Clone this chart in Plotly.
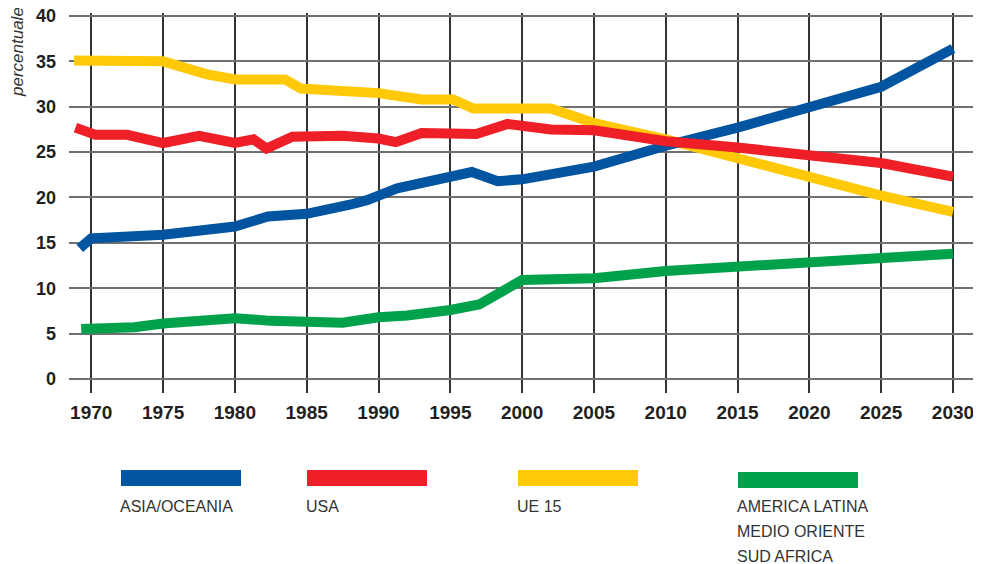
import plotly.graph_objects as go

# data
asia_years = [1969.2, 1970, 1975, 1980, 1982.3, 1985, 1988, 1989.2, 1991.3, 1995, 1996.5, 1998.3, 2000,
              2005, 2010, 2015, 2020, 2025, 2030]
asia_vals = [14.4, 15.5, 15.9, 16.8, 17.9, 18.2, 19.2, 19.7, 21.0, 22.3, 22.8, 21.8, 22.0,
             23.4, 25.7, 27.7, 30.0, 32.2, 36.4]

usa_years = [1968.9, 1970.3, 1972.5, 1975, 1977.5, 1980, 1981.3, 1982.2, 1984, 1987.5, 1990, 1991.2,
             1993, 1996.8, 1999, 2000, 2002, 2005, 2010, 2015, 2020, 2025, 2030]
usa_vals = [27.7, 26.9, 26.9, 26.0, 26.8, 26.0, 26.4, 25.4, 26.7, 26.8, 26.5, 26.1,
            27.1, 27.0, 28.1, 27.9, 27.5, 27.4, 26.2, 25.5, 24.7, 23.8, 22.3]

ue_years = [1968.8, 1975, 1978, 1980, 1983.5, 1984.6, 1990, 1993, 1995.2, 1996.6, 2002, 2005,
            2010, 2015, 2020, 2025, 2030]
ue_vals = [35.1, 35.0, 33.6, 33.0, 33.0, 32.0, 31.5, 30.8, 30.8, 29.8, 29.8, 28.2,
           26.4, 24.3, 22.1, 20.2, 18.4]

latam_years = [1969.3, 1973, 1975, 1979, 1980, 1982.5, 1987.5, 1990, 1992, 1995, 1997, 2000,
               2005, 2010, 2015, 2020, 2025, 2030]
latam_vals = [5.5, 5.7, 6.1, 6.4, 6.7, 6.4, 6.2, 6.8, 7.0, 7.6, 8.2, 10.9,
              11.1, 11.9, 12.4, 13.0, 13.4, 13.8]

x_ticks = list(range(1970, 2031, 5))
y_ticks = list(range(0, 41, 5))

names = [["ASIA/OCEANIA"], ["USA"], ["UE 15"], ["AMERICA LATINA", "MEDIO ORIENTE", "SUD AFRICA"]]
colors = ["#0054a0", "#ee1f26", "#ffc907", "#00a14b"]

FONT = "Liberation Sans, Arial, sans-serif"

fig = go.Figure()

# drawing order: yellow under, then blue, red, green
order = [
    (ue_years, ue_vals, 2),
    (asia_years, asia_vals, 0),
    (usa_years, usa_vals, 1),
    (latam_years, latam_vals, 3),
]
for xs, ys, i in order:
    fig.add_trace(go.Scatter(x=xs, y=ys, mode="lines", name=" ".join(names[i]),
                             line=dict(color=colors[i], width=10), showlegend=False))

# the page body has an 8px margin, so the figure is drawn 8px smaller
# and every pixel position below is shifted by that offset
OFF = 8
W, H = 981 - OFF, 564 - OFF
L, R, T, B = 69 - OFF, 981 - OFF, 13 - OFF, 393 - OFF


def px_x(p):
    return (p - OFF - L) / (R - L)


def px_y(p):
    return (B - (p - OFF)) / (B - T)


# hand-made legend: swatch above text
leg_x = [121, 307, 518, 738]
leg_y = [470, 470, 470, 472]
for i in range(4):
    fig.add_shape(type="rect", xref="paper", yref="paper",
                  x0=px_x(leg_x[i]), x1=px_x(leg_x[i] + 120),
                  y0=px_y(leg_y[i] + 16), y1=px_y(leg_y[i]),
                  fillcolor=colors[i], line=dict(width=0))
    for k, line in enumerate(names[i]):
        fig.add_annotation(x=px_x(leg_x[i] - 3), y=px_y(506 + 25 * k), xref="paper", yref="paper",
                           text=line, showarrow=False, xanchor="left", yanchor="middle",
                           align="left", font=dict(family=FONT, size=16, color="#333333"))

fig.add_annotation(x=px_x(18), y=px_y(52), xref="paper", yref="paper",
                   text="<i>percentuale</i>", textangle=-90, showarrow=False,
                   xanchor="center", yanchor="middle",
                   font=dict(family=FONT, size=17, color="#333333"))

fig.update_layout(
    width=W, height=H,
    margin=dict(l=L, r=W - R, t=T, b=H - B, autoexpand=False),
    plot_bgcolor="white", paper_bgcolor="white",
    xaxis=dict(range=[1968.45, 2031.95], tickvals=x_ticks, showgrid=True,
               gridcolor="#333333", gridwidth=1.5, zeroline=False, showline=False,
               ticks="", ticklabelstandoff=6, automargin=False, ticklabeloverflow="allow",
               tickfont=dict(family=FONT, size=19, color="#231f20", weight="bold")),
    yaxis=dict(range=[-1.55, 40.33], tickvals=y_ticks, showgrid=True,
               gridcolor="#707070", gridwidth=2, zeroline=False, showline=False,
               ticks="", ticklabelstandoff=12, automargin=False, ticklabeloverflow="allow",
               tickfont=dict(family=FONT, size=18, color="#231f20", weight="bold")),
)

fig.write_html("out.html")
